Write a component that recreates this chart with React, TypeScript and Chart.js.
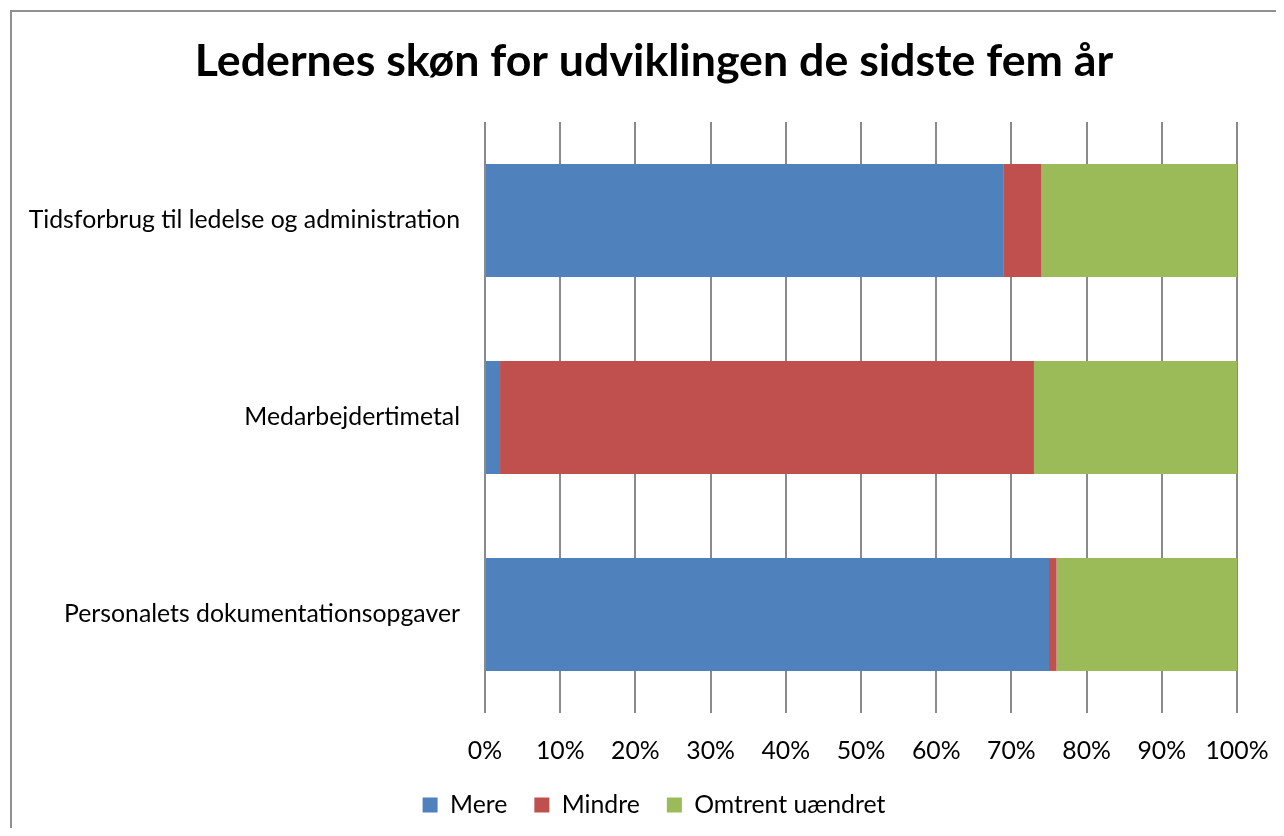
import React, { useEffect, useRef } from 'react';
import { Chart, registerables } from 'chart.js';

Chart.register(...registerables);

const chartTitle = 'Ledernes skøn for udviklingen de sidste fem år';
const categories = [
  'Tidsforbrug til ledelse og administration',
  'Medarbejdertimetal',
  'Personalets dokumentationsopgaver',
];
const seriesNames = ['Mere', 'Mindre', 'Omtrent uændret'];
const mere = [69, 2, 75];
const mindre = [5, 71, 1];
const uaendret = [26, 27, 24];
const seriesColors = ['#4F81BD', '#C0504D', '#9BBB59'];
const xMin = 0;
const xMax = 100;
const xStep = 10;

const FAMILY = 'Lato, "Open Sans", sans-serif';

function fitSize(text: string, weight: string, target: number): number {
  const c = document.createElement('canvas').getContext('2d');
  if (!c) return 20;
  c.font = `${weight} 100px ${FAMILY}`;
  const w = c.measureText(text).width;
  return w > 0 ? (100 * target) / w : 20;
}

export default function App() {
  const ref = useRef<HTMLCanvasElement | null>(null);

  useEffect(() => {
    if (!ref.current) return;
    const H = 840;
    const fs = Math.round(fitSize(categories[0], 'normal', 432) * 10) / 10;
    const ts = Math.round(fitSize(chartTitle, 'bold', 919) * 10) / 10;
    const tlh = ts * 1.2;
    const titleCenter = 54;
    const areaTop = 114;
    const areaBottom = 706;
    const tickCenter = 744;
    const legendCenter = 798;
    const legPad = 27;
    const ih = Math.max(fs, 15);
    const legendTop = legendCenter - legPad - ih / 2;
    const xH = legendTop - areaBottom;
    const Pb = Math.max(0, H - (legendTop + ih + 2 * legPad)) + 21 - (30 - legPad);

    const chart = new Chart(ref.current, {
      type: 'bar',
      data: {
        labels: categories,
        datasets: [
          { label: seriesNames[0], data: mere, backgroundColor: seriesColors[0] },
          { label: seriesNames[1], data: mindre, backgroundColor: seriesColors[1] },
          { label: seriesNames[2], data: uaendret, backgroundColor: seriesColors[2] },
        ].map((d) => ({ ...d, barPercentage: 0.573, categoryPercentage: 1, borderWidth: 0 })),
      },
      options: {
        indexAxis: 'y',
        animation: false,
        responsive: false,
        devicePixelRatio: 1,
        layout: { padding: { left: 63, right: 39, top: 0, bottom: Pb } },
        plugins: {
          title: {
            display: true,
            text: chartTitle,
            color: '#000',
            font: { family: FAMILY, size: ts, weight: 'bold', lineHeight: 1.2 },
            padding: { top: titleCenter - tlh / 2, bottom: areaTop - (titleCenter + tlh / 2) },
          },
          legend: {
            display: true,
            position: 'bottom',
            labels: {
              boxWidth: 15,
              boxHeight: 15,
              padding: legPad,
              color: '#000',
              font: { family: FAMILY, size: fs },
            },
          },
          tooltip: { enabled: false },
        },
        scales: {
          x: {
            stacked: true,
            min: xMin,
            max: xMax,
            position: 'bottom',
            border: { display: false },
            grid: { display: true, color: '#8a8a8a', lineWidth: 2, drawTicks: false },
            ticks: {
              stepSize: xStep,
              padding: tickCenter - areaBottom - (fs * 1.2) / 2,
              color: '#000',
              font: { family: FAMILY, size: fs },
              callback: (v: any) => `${v}%`,
              maxRotation: 0,
            },
            afterFit: (s: any) => {
              s.height = xH;
              s.paddingLeft = 0;
              s.paddingRight = 0;
            },
          },
          y: {
            stacked: true,
            border: { display: false },
            grid: { display: false, drawTicks: false },
            ticks: {
              padding: 25,
              color: '#000',
              font: { family: FAMILY, size: fs },
            },
            afterFit: (s: any) => {
              s.width = 414;
              s.paddingTop = 0;
              s.paddingBottom = 0;
              // let the long category labels extend past the axis box
              s._computeLabelArea = () => undefined;
            },
          },
        },
      },
    });
    return () => chart.destroy();
  }, []);

  return (
    <div style={{ position: 'relative', width: 1268, height: 820, overflow: 'hidden' }}>
      <div
        style={{
          position: 'absolute',
          left: 2,
          top: 2,
          width: 1320,
          height: 900,
          border: '2px solid #909090',
          boxSizing: 'border-box',
        }}
      />
      <canvas
        ref={ref}
        width={1268}
        height={840}
        style={{ position: 'absolute', left: 0, top: 0, display: 'block' }}
      />
    </div>
  );
}
